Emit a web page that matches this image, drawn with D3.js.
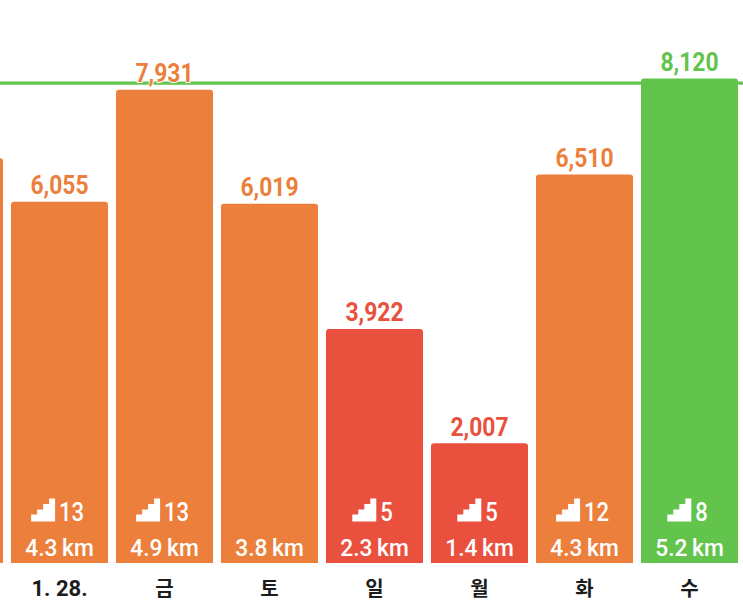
<!DOCTYPE html>
<html lang="ko">
<head>
<meta charset="utf-8">
<script src="https://cdnjs.cloudflare.com/ajax/libs/d3/7.8.5/d3.min.js"></script>
<style>
html,body{margin:0;padding:0;background:#fff;}
svg{display:block;}
.num{font-family:"Roboto",sans-serif;font-weight:500;}
.val{font-family:"Roboto",sans-serif;font-weight:700;}
.day{font-family:"Roboto","Noto Sans CJK KR",sans-serif;font-weight:700;fill:#1c1c1c;}
</style>
</head>
<body>
<svg id="chart" width="743" height="612"></svg>
<script>
// Daily step counts for one week, with the preceding day running off the left edge.
const days     = ["", "1. 28.", "금", "토", "일", "월", "화", "수"];
const steps    = [6784, 6055, 7931, 6019, 3922, 2007, 6510, 8120];
const floors   = [null, 13, 13, null, 5, 5, 12, 8];
const distance = [null, 4.3, 4.9, 3.8, 2.3, 1.4, 4.3, 5.2];
const goal = 8040;

const ORANGE = "#EB7F3B", RED = "#E9503D", GREEN = "#62C44D";
const NARROW = 0.88;
const fmt = d3.format(",");
const colour = v => v >= goal ? GREEN : v < 5000 ? RED : ORANGE;

const svg = d3.select("#chart");
const index = d3.range(days.length);

const x = d3.scaleBand().domain(index).range([-94, 738]).paddingInner(8 / 105);
const y = d3.scaleLinear().domain([0, 8120]).range([563, 78.4]);

// Goal line sits behind the bars.
svg.append("line")
  .attr("x1", 0).attr("x2", 743)
  .attr("y1", y(goal)).attr("y2", y(goal))
  .attr("stroke", GREEN).attr("stroke-width", 3.4);

// Bar with rounded top corners and a square base.
const barPath = i => {
  const x0 = x(i), x1 = x0 + x.bandwidth(), t = y(steps[i]), b = y(0), r = 3;
  const p = d3.path();
  p.moveTo(x0, b);
  p.lineTo(x0, t + r);
  p.arcTo(x0, t, x0 + r, t, r);
  p.lineTo(x1 - r, t);
  p.arcTo(x1, t, x1, t + r, r);
  p.lineTo(x1, b);
  p.closePath();
  return p.toString();
};

svg.append("g").selectAll("path").data(index).join("path")
  .attr("d", barPath)
  .attr("fill", i => colour(steps[i]));

const cx = i => x(i) + x.bandwidth() / 2;
const visible = index.filter(i => days[i] !== "");

// Value above each bar; the white halo breaks the goal line behind it.
svg.append("g").selectAll("text").data(visible).join("text")
  .attr("class", "val")
  .attr("transform", i => `translate(${cx(i)},${y(steps[i]) - 7.5}) scale(${NARROW},1)`)
  .attr("text-anchor", "middle")
  .attr("font-size", 26)
  .attr("fill", i => colour(steps[i]))
  .attr("stroke", "#fff").attr("stroke-width", 2).attr("paint-order", "stroke")
  .text(i => fmt(steps[i]));

// Staircase glyph plus floor count.
const stair = "M0 16H6V11H12V5.5H18V0H24V23H0Z";
const floorRows = svg.append("g").selectAll("g")
  .data(visible.filter(i => floors[i] !== null)).join("g");

floorRows.each(function (i) {
  const g = d3.select(this);
  const digits = String(floors[i]).length;
  const textW = digits * 12.4;
  const left = cx(i) - (24 + 4 + textW) / 2 - 2;
  g.append("path").attr("d", stair)
    .attr("transform", `translate(${left},498.5)`)
    .attr("fill", "#fff");
  g.append("text").attr("class", "num")
    .attr("transform", `translate(${left + 28},520.5) scale(${NARROW},1)`)
    .attr("font-size", 25).attr("fill", "#fff")
    .text(floors[i]);
});

// Distance walked, with the unit set slightly apart.
svg.append("g").selectAll("text").data(visible).join("text")
  .attr("class", "num")
  .attr("transform", i => `translate(${cx(i)},556) scale(0.93,1)`)
  .attr("text-anchor", "middle")
  .attr("font-size", 24.5).attr("fill", "#fff")
  .text(i => `${distance[i].toFixed(1)}\u2009km`);

// Day labels under the baseline; the date runs a little larger than the weekday glyphs.
svg.append("g").selectAll("text").data(visible).join("text")
  .attr("class", "day")
  .attr("x", cx).attr("y", 596)
  .attr("text-anchor", "middle")
  .attr("font-size", i => /\d/.test(days[i]) ? 22 : 20)
  .text(i => days[i]);
</script>
</body>
</html>
